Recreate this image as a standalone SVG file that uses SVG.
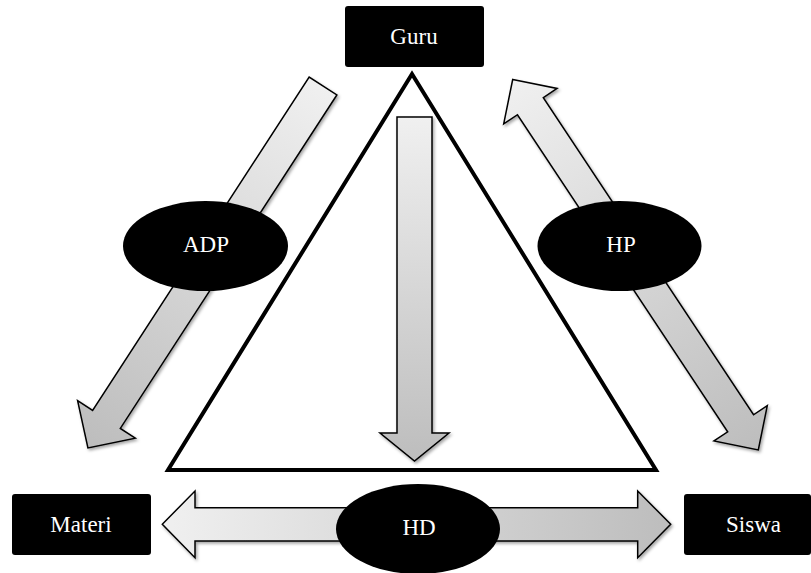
<svg xmlns="http://www.w3.org/2000/svg" width="811" height="573" viewBox="0 0 811 573">
<style>
.box{fill:#000;}
.lbl{fill:#fff;font-family:"Liberation Serif","Times New Roman",serif;font-size:23px;text-anchor:middle;}
.arrow{stroke:#000;stroke-width:1.5;stroke-linejoin:miter;}
.tri{fill:none;stroke:#000;stroke-width:4;stroke-linejoin:miter;}
</style>
<defs>
<linearGradient id="gAx" x1="0" y1="0" x2="1" y2="0">
<stop offset="0" stop-color="#f0f0f0"/>
<stop offset="1" stop-color="#bdbdbd"/>
</linearGradient>
<linearGradient id="gV" x1="0" y1="0" x2="0" y2="1">
<stop offset="0" stop-color="#f0f0f0"/>
<stop offset="1" stop-color="#bdbdbd"/>
</linearGradient>
<filter id="sh" x="-20%" y="-20%" width="140%" height="140%">
<feDropShadow dx="1.5" dy="2" stdDeviation="1.8" flood-color="#000" flood-opacity="0.35"/>
</filter>
</defs>

<g id="triangle">
<polygon class="tri" points="412,74 168,470 656,470"/>
</g>

<g id="connectors">
<g id="arrow-adp" filter="url(#sh)">
<polygon class="arrow" fill="url(#gAx)" transform="translate(323,86) rotate(123)" points="0,-16.5 397.6,-16.5 397.6,-34.4 431.6,0 397.6,34.4 397.6,16.5 0,16.5"/>
</g>
<g id="arrow-hp" filter="url(#sh)">
<polygon class="arrow" fill="url(#gAx)" transform="translate(512.7,79.5) rotate(56.46)" points="0,0 32,-32 32,-15.5 412.5,-15.5 412.5,-32 444.5,0 412.5,32 412.5,15.5 32,15.5 32,32"/>
</g>
<g id="arrow-down" filter="url(#sh)">
<polygon class="arrow" fill="url(#gV)" points="397,117 432,117 432,433 449,433 414.5,461 380,433 397,433"/>
</g>
<g id="arrow-hd" filter="url(#sh)">
<polygon class="arrow" fill="url(#gAx)" points="162.3,524.3 195,491 195,507.7 637.7,507.7 637.7,491 670.7,524.3 637.7,557.7 637.7,541 195,541 195,557.7"/>
</g>
</g>

<g id="node-guru">
<rect class="box" x="345" y="6" width="139" height="61" rx="3"/>
<text class="lbl" x="414" y="44">Guru</text>
</g>
<g id="node-materi">
<rect class="box" x="12" y="494" width="139" height="61" rx="3"/>
<text class="lbl" x="81" y="532">Materi</text>
</g>
<g id="node-siswa">
<rect class="box" x="684" y="494" width="127" height="61" rx="3"/>
<text class="lbl" x="753.5" y="532">Siswa</text>
</g>
<g id="node-adp">
<ellipse class="box" cx="205.5" cy="246" rx="82.5" ry="45"/>
<text class="lbl" x="206" y="252">ADP</text>
</g>
<g id="node-hp">
<ellipse class="box" cx="619.5" cy="246" rx="82" ry="45"/>
<text class="lbl" x="621" y="252">HP</text>
</g>
<g id="node-hd">
<ellipse class="box" cx="418" cy="529" rx="82" ry="45"/>
<text class="lbl" x="419" y="535">HD</text>
</g>
</svg>
